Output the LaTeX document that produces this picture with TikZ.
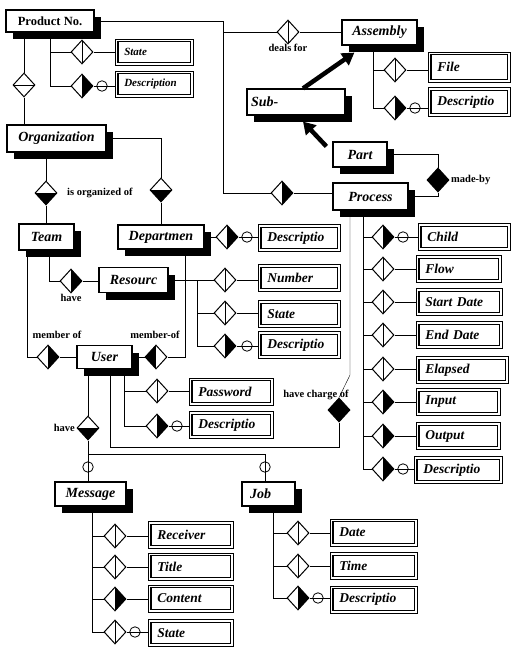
\documentclass[tikz,border=0pt]{standalone}
\usepackage{fontspec}
\setmainfont{Liberation Serif}
\usetikzlibrary{shapes.geometric,arrows.meta}
\pgfdeclarelayer{back}
\pgfdeclarelayer{lines}
\pgfsetlayers{back,lines,main}
\newcommand\entfont{\bfseries\itshape\fontsize{14}{16}\selectfont}
\newcommand\attfont{\bfseries\itshape\fontsize{13.5}{16}\selectfont}
\newcommand\smallattfont{\bfseries\itshape\fontsize{11}{13}\selectfont}
\newcommand\labfont{\bfseries\fontsize{10.5}{12}\selectfont}
\newcommand\prodfont{\bfseries\fontsize{12.5}{14}\selectfont}
% [options]{name}{x}{y}{width}{height}{text}
\newcommand\mkentity[7][]{%
  \node[shadowbox, minimum width=#5, minimum height=#6] (#2shadow) at (#3+7,#4+7) {};
  \node[entity, minimum width=#5, minimum height=#6, #1] (#2) at (#3,#4) {#7};}
\begin{document}
\begin{tikzpicture}[x=1pt,y=-1pt,line width=0.8pt,
  shadowbox/.style={rectangle, fill=black, draw=none, inner sep=0pt},
  entity/.style={draw, line width=1.2pt, fill=white, inner sep=0pt, font=\entfont},
  attr/.style={draw, line width=0.6pt, anchor=west, inner xsep=9pt, inner ysep=0pt,
    text width=#1, align=left, minimum height=27pt, font=\attfont,
    path picture={\draw[line width=1.3pt]
      ([shift={(2.8pt,2.8pt)}]path picture bounding box.south west) rectangle
      ([shift={(-2.8pt,-2.8pt)}]path picture bounding box.north east);}},
  dia/.style={diamond, draw, line width=1pt, fill=white, inner sep=0pt,
    minimum width=22pt, minimum height=24pt},
  dv/.style={dia, path picture={\draw[black] (path picture bounding box.north) -- (path picture bounding box.south);}},
  dh/.style={dia, path picture={\draw[black] (path picture bounding box.west) -- (path picture bounding box.east);}},
  dR/.style={dia, path picture={\fill[black] (path picture bounding box.north) rectangle (path picture bounding box.south east);}},
  dL/.style={dia, path picture={\fill[black] (path picture bounding box.north west) rectangle (path picture bounding box.south);}},
  dB/.style={dia, path picture={\fill[black] (path picture bounding box.west) rectangle (path picture bounding box.south east);}},
  dF/.style={dia, fill=black},
  circ/.style={circle, draw, line width=0.8pt, inner sep=0pt, minimum size=10.5pt},
  lab/.style={font=\labfont, inner sep=1pt},
  thick arrow/.style={line width=4.5pt, -{Triangle[length=12pt,width=14pt]}}]

\useasboundingbox (0,0) rectangle (511,649);
\begin{pgfonlayer}{back}
\fill[white] (0,0) rectangle (511,649);
\end{pgfonlayer}

% ---------------- entities ----------------
\mkentity[font=\prodfont]{prod}{50}{21}{88pt}{22pt}{Product No.}
\mkentity{org}{56.5}{138.5}{99pt}{27pt}{Organization}
\mkentity{team}{46.5}{237}{55pt}{26pt}{Team}
\mkentity{dep}{161}{237}{86pt}{24pt}{Departmen}
\mkentity{res}{133.5}{280}{69pt}{25pt}{Resourc}
\mkentity{user}{104.5}{357}{55pt}{23pt}{User}
\mkentity{msg}{90.5}{494}{71pt}{24pt}{Message}
\mkentity[text width=37pt, align=left, inner xsep=8pt]{job}{268.5}{494}{53pt}{24pt}{Job}
\mkentity{proc}{370.5}{196.5}{75pt}{27pt}{Process}
\mkentity{part}{360}{154.5}{54pt}{25pt}{Part}
\mkentity[text width=90pt, align=left, inner xsep=4pt]{sub}{296}{102}{98pt}{26pt}{Sub-}
\mkentity{asm}{379.5}{32.5}{75pt}{25pt}{Assembly}

% ---------------- Product No. ----------------
\node[dh] (dPO) at (24,85) {};
\node[dv] (dPS) at (82,52) {};
\node[dR] (dPD) at (82,86) {};
\node[circ] (cPD) at (102,86) {};
\node[attr=60pt, font=\smallattfont, minimum height=26pt] (aPS) at (115,52) {State};
\node[attr=60pt, font=\smallattfont, minimum height=26pt] (aPD) at (115,84) {Description};

% ---------------- Assembly ----------------
\node[dv] (dDF) at (288,32) {};
\node[lab, below] (lDF) at (288,43) {deals for};
\node[dv] (dAF) at (395,70) {};
\node[dR] (dAD) at (395,108) {};
\node[circ] (cAD) at (415,108) {};
\node[attr=64pt, minimum height=30pt] (aAF) at (428,67) {File};
\node[attr=64pt, minimum height=29pt] (aAD) at (428,102) {Descriptio};

% ---------------- Part / Process ----------------
\node[dF] (dMB) at (438,180) {};
\node[lab, right] (lMB) at (450,180) {made-by};
\node[dR] (dPr) at (282,193) {};

% ---------------- Organization ----------------
\node[dB] (dOT) at (46,193) {};
\node[lab, right] (lOT) at (66,193) {is organized of};
\node[dB] (dOD) at (161,190) {};

% ---------------- Department ----------------
\node[dR] (dDD) at (227,237) {};
\node[circ] (cDD) at (247,237) {};
\node[attr=64pt] (aDD) at (258,238) {Descriptio};

% ---------------- Team / Resourc ----------------
\node[dR] (dTR) at (71,281) {};
\node[lab] (lTR) at (71,298) {have};
\node[dv] (dRN) at (225,280) {};
\node[dv] (dRS) at (225,313) {};
\node[dR] (dRD) at (225,346) {};
\node[circ] (cRD) at (247,346) {};
\node[attr=64pt] (aRN) at (258,278) {Number};
\node[attr=64pt] (aRS) at (258,314) {State};
\node[attr=64pt] (aRD) at (258,345) {Descriptio};

% ---------------- User ----------------
\node[dR] (dMO) at (48,357) {};
\node[lab] (lMO) at (57,335) {member of};
\node[dL] (dMO2) at (156,357) {};
\node[lab] (lMO2) at (155,335) {member-of};
\node[dv] (dUP) at (157,391) {};
\node[dR] (dUD) at (157,426) {};
\node[circ] (cUD) at (177,426) {};
\node[attr=66pt] (aUP) at (189,391.5) {Password};
\node[attr=66pt] (aUD) at (189,425) {Descriptio};
\node[dF] (dHC) at (339,410) {};
\node[lab] (lHC) at (316,395) {have charge of};
\coordinate (hcA) at (350,375);
\node[dB] (dHv) at (88,428) {};
\node[lab, left] (lHv) at (76,428) {have};
\node[circ] (cM) at (88,467) {};
\node[circ] (cJ) at (265,467) {};

% ---------------- Process attributes ----------------
\node[dR] (dP1) at (383,237) {};
\node[circ] (cP1) at (403,237) {};
\node[dv] (dP2) at (383,269) {};
\node[dv] (dP3) at (383,302) {};
\node[dv] (dP4) at (383,335) {};
\node[dv] (dP5) at (383,369) {};
\node[dR] (dP6) at (383,402) {};
\node[dR] (dP7) at (383,436) {};
\node[dR] (dP8) at (383,469) {};
\node[circ] (cP8) at (403,469) {};
\node[attr=74pt] (aP1) at (418,237) {Child};
\node[attr=67pt] (aP2) at (416,269) {Flow};
\node[attr=68pt] (aP3) at (416,302) {Start Date};
\node[attr=68pt] (aP4) at (416,335) {End Date};
\node[attr=74pt] (aP5) at (416,370) {Elapsed};
\node[attr=66pt] (aP6) at (416,402) {Input};
\node[attr=66pt] (aP7) at (416,436) {Output};
\node[attr=70pt] (aP8) at (414,470) {Descriptio};

% ---------------- Message attributes ----------------
\node[dv] (dM1) at (115,536) {};
\node[dv] (dM2) at (115,567) {};
\node[dR] (dM3) at (115,599) {};
\node[dv] (dM4) at (115,632) {};
\node[circ] (cM4) at (135,632) {};
\node[attr=67pt] (aM1) at (148,535) {Receiver};
\node[attr=67pt] (aM2) at (148,566.5) {Title};
\node[attr=67pt] (aM3) at (148,598.5) {Content};
\node[attr=67pt] (aM4) at (148,633) {State};

% ---------------- Job attributes ----------------
\node[dv] (dJ1) at (298,533) {};
\node[dv] (dJ2) at (298,566) {};
\node[dR] (dJ3) at (298,598) {};
\node[circ] (cJ3) at (318,598) {};
\node[attr=69pt] (aJ1) at (330,532.5) {Date};
\node[attr=69pt] (aJ2) at (330,566) {Time};
\node[attr=69pt] (aJ3) at (330,599.5) {Descriptio};

% ---------------- helper coordinates ----------------
\coordinate (px) at (223,0);
\coordinate (ox) at (24,0);
\coordinate (tx) at (49,0);
\coordinate (tx2) at (27,0);
\coordinate (dx) at (185,0);
\coordinate (rx) at (197,0);
\coordinate (ux1) at (124,0);
\coordinate (ux2) at (110,0);
\coordinate (hcy) at (0,447);
\coordinate (bar) at (0,454);
\coordinate (mx) at (92,0);
\coordinate (jx) at (273,0);
\coordinate (prx) at (363,0);
\coordinate (ax) at (373,0);

% ---------------- connectors ----------------
\begin{pgfonlayer}{lines}
\draw (prod.east) -| (px |- dPr) -- (dPr.west);
\draw (px |- dDF) -- (dDF.west);
\draw (dDF.east) -- (dDF.east -| asm.west);
\draw (dPr.east) -- (dPr.east -| proc.west);
\draw (prod.south) |- (dPS.west);
\draw (prod.south) |- (dPD.west);
\draw (dPS.east) -- (dPS.east -| aPS.west);
\draw (dPD.east) -- (dPD.east -| aPD.west);
\draw (ox |- prod.south) -- (dPO.north);
\draw (dPO.south) -- (ox |- org.north);
\draw (ax |- asm.south) |- (dAF.west);
\draw (ax |- asm.south) |- (dAD.west);
\draw (dAF.east) -- (dAF.east -| aAF.west);
\draw (dAD.east) -- (dAD.east -| aAD.west);
\draw (part.east) -| (dMB.north);
\draw (dMB.south) |- (proc.east);
\draw (org.east) -| (dOD.north);
\draw (dOD.south) -- (dep.north);
\draw (org.south -| dOT) -- (dOT.north);
\draw (dOT.south) -- (dOT.south |- team.north);
\draw (dep.east) -- (dDD.west);
\draw (dDD.east) -- (dDD.east -| aDD.west);
\draw (tx |- team.south) |- (dTR.west);
\draw (dTR.east) -- (dTR.east -| res.west);
\draw (res.east) -- (dRN.west);
\draw (rx |- dRN) |- (dRS.west);
\draw (rx |- dRN) |- (dRD.west);
\draw (dRN.east) -- (dRN.east -| aRN.west);
\draw (dRS.east) -- (dRS.east -| aRS.west);
\draw (dRD.east) -- (dRD.east -| aRD.west);
\draw (tx2 |- team.south) |- (dMO.west);
\draw (dMO.east) -- (dMO.east -| user.west);
\draw (dx |- dep.south) |- (dMO2.east);
\draw (dMO2.west) -- (dMO2.west -| user.east);
\draw (ux1 |- user.south) |- (dUP.west);
\draw (ux1 |- user.south) |- (dUD.west);
\draw (dUP.east) -- (dUP.east -| aUP.west);
\draw (dUD.east) -- (dUD.east -| aUD.west);
\draw (ux2 |- user.south) |- (dHC |- hcy) -- (dHC.south);
\draw (dHC.north) -- (hcA) -- (hcA |- proc.south);
\draw (dHv |- user.south) -- (dHv.north);
\draw (dHv.south) -- (dHv |- bar) -- (cJ |- bar) -- (cJ |- job.north);
\draw (cM |- bar) -- (cM |- msg.north);
\foreach \d in {dP1,dP2,dP3,dP4,dP5,dP6,dP7,dP8}{\draw (prx |- proc.south) |- (\d.west);}
\foreach \d/\a in {dP1/aP1,dP2/aP2,dP3/aP3,dP4/aP4,dP5/aP5,dP6/aP6,dP7/aP7,dP8/aP8}{\draw (\d.east) -- (\d.east -| \a.west);}
\foreach \d in {dM1,dM2,dM3,dM4}{\draw (mx |- msg.south) |- (\d.west);}
\foreach \d/\a in {dM1/aM1,dM2/aM2,dM3/aM3,dM4/aM4}{\draw (\d.east) -- (\d.east -| \a.west);}
\foreach \d in {dJ1,dJ2,dJ3}{\draw (jx |- job.south) |- (\d.west);}
\foreach \d/\a in {dJ1/aJ1,dJ2/aJ2,dJ3/aJ3}{\draw (\d.east) -- (\d.east -| \a.west);}
\end{pgfonlayer}

% ---------------- thick arrows ----------------
\draw[thick arrow] ([xshift=7pt]sub.north) -- ([xshift=13pt,yshift=-7pt]asm.south west);
\draw[thick arrow] ([xshift=-6pt,yshift=-5pt]part.north west) -- ([xshift=7pt,yshift=-6pt]sub.south);
\end{tikzpicture}
\end{document}
